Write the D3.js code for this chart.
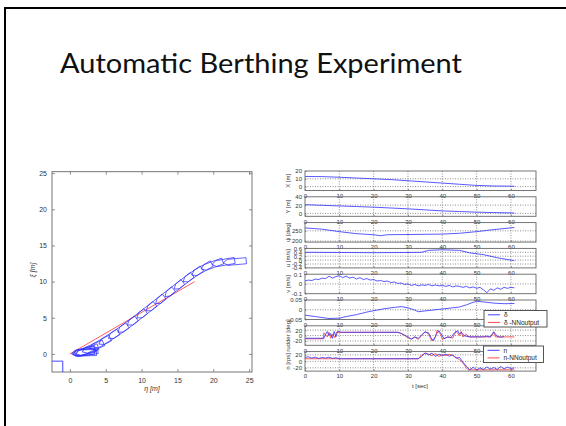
<!DOCTYPE html>
<html>
<head>
<meta charset="utf-8">
<script src="https://cdn.jsdelivr.net/npm/d3@7"></script>
<style>
  body { margin: 0; background: #fff; }
  svg { display: block; }
</style>
</head>
<body>
<div id="chart"></div>
<script>
const titleText = "Automatic Berthing Experiment";

// ---- left plot: track in the (eta, xi) plane ----
const trackTicks = [0, 5, 10, 15, 20, 25];
// ship poses: [eta, xi, heading in plot degrees]
const shipPoses = [
  [23.0, 12.75, 185], [21.4, 12.65, 190], [19.8, 12.3, 200], [18.4, 11.7, 210],
  [17.1, 10.9, 215], [15.8, 9.95, 218], [14.5, 8.95, 219], [13.2, 7.95, 219],
  [11.9, 6.95, 219], [10.6, 5.95, 218], [9.3, 4.95, 217], [8.0, 3.95, 216],
  [6.7, 3.05, 214], [5.4, 2.2, 212], [4.2, 1.45, 208], [3.2, 0.9, 203],
  [2.4, 0.5, 198], [1.9, 0.3, 192], [1.8, 0.2, 186], [2.0, 0.35, 195],
  [2.1, 0.15, 182], [2.3, 0.25, 188]
];
// hull outline in ship coordinates [forward, port]
const shipShape = [[1.6, 0], [1.0, 0.42], [-1.6, 0.42], [-1.6, -0.42], [1.0, -0.42]];
const targetLine = [[0, 0], [17.4, 10]];
const berthBox = [[-3, -1], [-1, -1], [-1, -3], [-3, -3]];

// ---- right plot: time histories [t, value] ----
const timeTicks = [0, 10, 20, 30, 40, 50, 60];
const seriesX = [[0, 13], [5, 12.8], [10, 12], [15, 11], [20, 10], [25, 9], [30, 7.5],
  [35, 6], [40, 4.5], [45, 3], [50, 1.5], [55, 0.8], [61, 0.5]];
const seriesY = [[0, 21], [5, 19.5], [10, 18], [15, 16.5], [20, 15], [25, 13], [30, 11],
  [35, 8.5], [40, 6], [45, 4.5], [50, 3], [55, 2], [61, 1]];
const seriesPsi = [[0, 264], [5, 258], [10, 246], [15, 236], [20, 231], [22, 226], [24, 231],
  [30, 232], [35, 233], [40, 234], [45, 238], [50, 246], [55, 256], [61, 266]];
const seriesU = [[0, 0.4], [10, 0.39], [20, 0.38], [30, 0.39], [34, 0.4], [36, 0.5],
  [40, 0.53], [45, 0.5], [48, 0.37], [52, 0.28], [56, 0.12], [61, -0.03]];
const vStep = 1;
const vValues = [
  0.03, 0.04, 0.035, 0.05, 0.045, 0.06, 0.055, 0.08, 0.06, 0.075,
  0.085, 0.065, 0.08, 0.06, 0.07, 0.05, 0.065, 0.045, 0.055, 0.04,
  0.045, 0.03, 0.035, 0.025, 0.03, 0.015, 0.02, 0.005, 0.01, -0.005,
  0.0, -0.015, -0.005, -0.02, -0.01, -0.015, -0.005, -0.02, -0.01, -0.02,
  -0.015, -0.025, -0.015, -0.03, -0.02, -0.025, -0.035, -0.025, -0.04, -0.03,
  -0.045, -0.035, -0.06, -0.09, -0.05, -0.065, -0.04, -0.055, -0.035, -0.045,
  -0.035, -0.04
];
const seriesBeta = [[0, -0.028], [3, -0.035], [7, -0.045], [10, -0.043], [12, -0.035],
  [15, -0.025], [18, -0.012], [20, -0.005], [23, 0.005], [26, 0.012], [28, 0.016],
  [30, 0.01], [32, -0.002], [33, -0.01], [35, -0.006], [37, -0.002], [40, 0.004],
  [43, 0.01], [45, 0.014], [47, 0.025], [49, 0.038], [50, 0.043], [52, 0.04],
  [55, 0.034], [58, 0.031], [61, 0.032]];
const rudder = [[0, -10], [5.5, -10], [6, 5], [6.5, 15], [7, 0], [7.5, 8], [8, -10],
  [8.5, 15], [9, -5], [9.5, 16], [10.5, 12], [27, 12], [28, 8], [29, 2], [30, -5],
  [31, -14], [32, -5], [33, -10], [34, 2], [35, 13], [36, 10], [37, -15], [37.5, -18],
  [38.3, 5], [39, 18], [40, 0], [40.5, -12], [41.5, -5], [42.5, -8], [43.5, 10],
  [44.5, 18], [45, 5], [45.5, 12], [46.5, -2], [47.5, -3], [48, -5], [52, -5],
  [53, -2], [54, -6], [55, 14], [56, -3], [57, -6], [58, -4]];
const rudderNN = [[0, -12], [5.3, -12], [5.5, 10], [6.5, -5], [7, 12], [7.5, -10],
  [8, 5], [8.7, -8], [9.2, 12], [10.2, 12], [27, 12], [28, 8], [29, 0], [30, -8],
  [31, -12], [32, -6], [33, -14], [34, 0], [35, 15], [36, 5], [37, -20], [38, -5],
  [38.5, 20], [39.5, 5], [40, -14], [41, -8], [42, -5], [43, -10], [44, 16], [45, 0],
  [45.5, 15], [46, -5], [47, 5], [47.5, -5], [54, -5], [55, 12], [55.5, -5], [61, -5]];
const revs = [[0, 12], [1, 14], [2, 10], [3, 13], [4, 9], [5, 12], [6, 10], [7, 13],
  [8, 9], [9, 11], [10, 8], [33, 8], [34, 15], [35, 26], [36, 20], [37, 25], [38, 15],
  [39, 22], [40, 18], [41, 22], [42, 16], [43, 20], [44, 10], [45, 12], [46, -2],
  [47, -15], [48, -26], [49, -18], [50, -26], [51, -20], [52, -25], [53, -17],
  [54, -24], [55, -19], [56, -25], [57, -16], [58, -23], [59, -18], [60, -22], [61, -20]];
const revsNN = [[0, 8], [33, 8], [34, 20], [35, 25], [36, 22], [37, 18], [38, 24],
  [39, 15], [40, 20], [41, 18], [42, 22], [43, 18], [44, 12], [45, 5], [46, -5],
  [47, -20], [47.5, -26], [61, -26]];
const legendRudder = ["\u03b4", "\u03b4 -NNoutput"];
const legendRevs = ["n", "n-NNoutput"];

const blue = "#2f2fff", red = "#ff3434";
const font = "'Liberation Sans', Arial, sans-serif";

const svg = d3.select("#chart").append("svg").attr("width", 566).attr("height", 426);
svg.append("rect").attr("width", 566).attr("height", 426).attr("fill", "#fff");

// slide frame (left + top edge)
svg.append("path").attr("d", "M5,426V8H566")
  .attr("fill", "none").attr("stroke", "#000").attr("stroke-width", 2);

svg.append("text")
  .attr("x", 261).attr("y", 73)
  .attr("text-anchor", "middle")
  .attr("textLength", 402).attr("lengthAdjust", "spacingAndGlyphs")
  .style("font-family", "Lato, 'Open Sans', sans-serif")
  .style("font-size", "27px")
  .attr("fill", "#111")
  .text(titleText);

// ================= left plot =================
const xL = d3.scaleLinear().domain([-2.5, 25.4]).range([52, 252]);
const yL = d3.scaleLinear().domain([-2.5, 25.2]).range([372, 171.7]);
const gL = svg.append("g");

gL.append("clipPath").attr("id", "clipL").append("rect")
  .attr("x", 52).attr("y", 171.7).attr("width", 200).attr("height", 200.3);

function styleAxis(g, size) {
  g.select(".domain").remove();
  g.selectAll("line").attr("stroke", "#666").attr("stroke-width", 0.7);
  g.selectAll("text").attr("fill", "#333").style("font-family", font).style("font-size", size);
}

gL.append("g").attr("transform", "translate(0,372)")
  .call(d3.axisBottom(xL).tickValues(trackTicks).tickSizeInner(-3).tickSizeOuter(0).tickPadding(6))
  .call(g => styleAxis(g, "7px"));
gL.append("g").attr("transform", "translate(52,0)")
  .call(d3.axisLeft(yL).tickValues(trackTicks).tickSizeInner(-3).tickSizeOuter(0).tickPadding(5))
  .call(g => styleAxis(g, "7px"));
gL.append("g").attr("transform", "translate(0,171.7)")
  .call(d3.axisTop(xL).tickValues(trackTicks).tickSizeInner(-3).tickSizeOuter(0).tickFormat(""))
  .call(g => styleAxis(g, "7px"));
gL.append("g").attr("transform", "translate(252,0)")
  .call(d3.axisRight(yL).tickValues(trackTicks).tickSizeInner(-3).tickSizeOuter(0).tickFormat(""))
  .call(g => styleAxis(g, "7px"));

gL.append("rect")
  .attr("x", xL.range()[0]).attr("y", yL.range()[1])
  .attr("width", xL.range()[1] - xL.range()[0])
  .attr("height", yL.range()[0] - yL.range()[1])
  .attr("fill", "none").attr("stroke", "#666").attr("stroke-width", 0.9);

const plotL = gL.append("g").attr("clip-path", "url(#clipL)");

plotL.append("path")
  .attr("d", d3.line().x(d => xL(d[0])).y(d => yL(d[1]))(berthBox) + "Z")
  .attr("fill", "none").attr("stroke", blue).attr("stroke-width", 0.9);

plotL.append("path")
  .attr("d", d3.line().x(d => xL(d[0])).y(d => yL(d[1]))(targetLine))
  .attr("fill", "none").attr("stroke", red).attr("stroke-width", 0.8);

function shipPath(p) {
  const a = p[2] * Math.PI / 180;
  const pts = shipShape.map(([u, v]) => [
    xL(p[0] + u * Math.cos(a) - v * Math.sin(a)),
    yL(p[1] + u * Math.sin(a) + v * Math.cos(a))
  ]);
  return d3.line()(pts) + "Z";
}
plotL.selectAll("path.ship").data(shipPoses).join("path")
  .attr("class", "ship")
  .attr("d", shipPath)
  .attr("fill", "none").attr("stroke", blue).attr("stroke-width", 0.75);

gL.append("text")
  .attr("x", 152).attr("y", 391).attr("text-anchor", "middle")
  .style("font-family", font).style("font-size", "7px").style("font-style", "italic")
  .attr("fill", "#333").text("\u03b7 [m]");
gL.append("text")
  .attr("transform", "translate(35,270) rotate(-90)").attr("text-anchor", "middle")
  .style("font-family", font).style("font-size", "7px").style("font-style", "italic")
  .attr("fill", "#333").text("\u03be [m]");

// ================= right plot =================
const xR = d3.scaleLinear().domain([0, 67.3]).range([305, 536]);
const seriesV = vValues.map((v, i) => [i * vStep, v]);

const panels = [
  { label: "X [m]", domain: [-5, 20], ticks: [0, 10, 20], lines: [[seriesX, blue]] },
  { label: "Y [m]", domain: [-7, 40], ticks: [0, 20, 40], lines: [[seriesY, blue]] },
  { label: "\u03c8 [deg]", domain: [195, 290], ticks: [200, 250], lines: [[seriesPsi, blue]] },
  { label: "u [m/s]", domain: [-0.4, 0.6], ticks: [-0.4, -0.2, 0, 0.2, 0.4, 0.6], lines: [[seriesU, blue]] },
  { label: "v [m/s]", domain: [-0.1, 0.1], ticks: [-0.1, 0, 0.1], lines: [[seriesV, blue]] },
  { label: "", domain: [-0.05, 0.05], ticks: [-0.05, 0, 0.05], lines: [[seriesBeta, blue]] },
  { label: "rudder [deg]", domain: [-36, 36], ticks: [-20, 0, 20], lines: [[rudderNN, red], [rudder, blue]] },
  { label: "n [rps]", domain: [-30, 30], ticks: [-20, 0, 20], lines: [[revsNN, red], [revs, blue]] }
];

const panelTop0 = 171, panelStep = 25.8, panelH = 19.5;
const fmt = d => String(+d.toFixed(2));

panels.forEach((p, i) => {
  const top = panelTop0 + i * panelStep;
  const y = d3.scaleLinear().domain(p.domain).range([top + panelH, top]);
  const g = svg.append("g");

  g.append("clipPath").attr("id", "clipR" + i).append("rect")
    .attr("x", xR.range()[0]).attr("y", top)
    .attr("width", xR.range()[1] - xR.range()[0]).attr("height", panelH);

  // dotted grid
  g.selectAll("line.vgrid").data(timeTicks.filter(t => t > 0)).join("line")
    .attr("x1", d => xR(d)).attr("x2", d => xR(d))
    .attr("y1", top).attr("y2", top + panelH)
    .attr("stroke", "#444").attr("stroke-width", 0.6).attr("stroke-dasharray", "1,1.5");
  g.selectAll("line.hgrid").data(p.ticks.filter(t => t > p.domain[0] && t < p.domain[1])).join("line")
    .attr("x1", xR.range()[0]).attr("x2", xR.range()[1])
    .attr("y1", d => y(d)).attr("y2", d => y(d))
    .attr("stroke", "#444").attr("stroke-width", 0.6).attr("stroke-dasharray", "1,1.5");

  const plot = g.append("g").attr("clip-path", "url(#clipR" + i + ")");
  const line = d3.line().x(d => xR(d[0])).y(d => y(d[1]));
  p.lines.forEach(([data, color]) => {
    plot.append("path").attr("d", line(data))
      .attr("fill", "none").attr("stroke", color).attr("stroke-width", 0.8);
  });

  g.append("rect")
    .attr("x", xR.range()[0]).attr("y", top)
    .attr("width", xR.range()[1] - xR.range()[0]).attr("height", panelH)
    .attr("fill", "none").attr("stroke", "#666").attr("stroke-width", 0.9);

  g.append("g").attr("transform", `translate(0,${top + panelH})`)
    .call(d3.axisBottom(xR).tickValues(timeTicks).tickSizeInner(-1.5).tickSizeOuter(0).tickPadding(3))
    .call(a => styleAxis(a, "6px"));
  g.append("g").attr("transform", `translate(${xR.range()[0]},0)`)
    .call(d3.axisLeft(y).tickValues(p.ticks).tickFormat(fmt).tickSizeInner(-1.5).tickSizeOuter(0).tickPadding(3))
    .call(a => styleAxis(a, "6px"));

  if (p.label) {
    g.append("text")
      .attr("transform", `translate(290,${top + panelH / 2}) rotate(-90)`)
      .attr("text-anchor", "middle")
      .style("font-family", font).style("font-size", "6px")
      .attr("fill", "#333").text(p.label);
  }
});

svg.append("text")
  .attr("x", 420).attr("y", 388).attr("text-anchor", "middle")
  .style("font-family", font).style("font-size", "6px")
  .attr("fill", "#333").text("t [sec]");

// legends
function drawLegend(x, y, w, labels) {
  const g = svg.append("g").attr("transform", `translate(${x},${y})`);
  g.append("rect").attr("width", w).attr("height", 16.5)
    .attr("fill", "#fff").attr("stroke", "#444").attr("stroke-width", 0.9);
  labels.forEach((lab, k) => {
    const yy = 4.3 + k * 7.6;
    g.append("line").attr("x1", 4).attr("x2", 16).attr("y1", yy).attr("y2", yy)
      .attr("stroke", k === 0 ? blue : red).attr("stroke-width", 0.9);
    g.append("text").attr("x", 20).attr("y", yy).attr("dy", "0.35em")
      .style("font-family", font).style("font-size", "6.5px")
      .attr("fill", "#222").text(lab);
  });
}
drawLegend(484, 310.5, 63, legendRudder);
drawLegend(483.5, 346, 60, legendRevs);
</script>
</body>
</html>
